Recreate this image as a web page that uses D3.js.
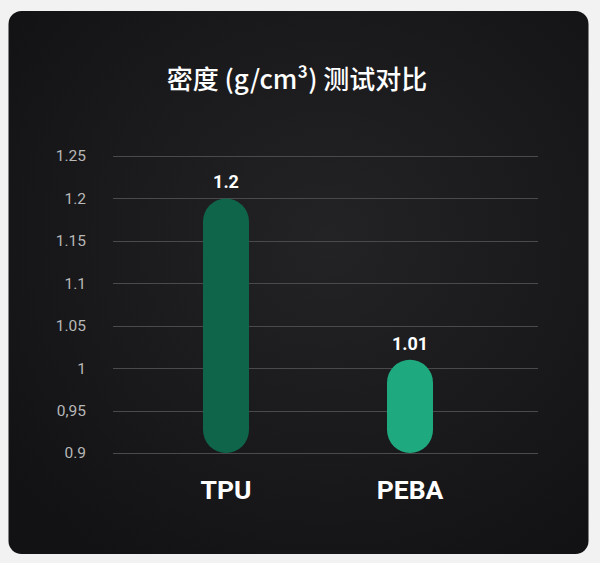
<!DOCTYPE html>
<html>
<head>
<meta charset="utf-8">
<script src="https://cdn.jsdelivr.net/npm/d3@7/dist/d3.min.js"></script>
<style>
  html, body { margin: 0; padding: 0; background: #f2f2f2; }
  svg { display: block; }
</style>
</head>
<body>
<script>
const titleText = "密度 (g/cm³) 测试对比";
const categories = ["TPU", "PEBA"];
const values = [1.2, 1.01];
const valueLabels = ["1.2", "1.01"];
const barColors = ["#0e654a", "#1fa97e"];
const tickValues = [0.9, 0.95, 1.0, 1.05, 1.1, 1.15, 1.2, 1.25];
const tickLabels = ["0.9", "0,95", "1", "1.05", "1.1", "1.15", "1.2", "1.25"];
const yMin = 0.9, yMax = 1.25;

const W = 600, H = 563;
const svg = d3.select("body").append("svg").attr("width", W).attr("height", H);

const defs = svg.append("defs");
const rg = defs.append("radialGradient").attr("id", "bg")
  .attr("cx", "55%").attr("cy", "42%").attr("r", "70%");
rg.append("stop").attr("offset", "0%").attr("stop-color", "#232325");
rg.append("stop").attr("offset", "55%").attr("stop-color", "#1a1a1c");
rg.append("stop").attr("offset", "100%").attr("stop-color", "#121214");

svg.append("rect").attr("x", 8.5).attr("y", 11).attr("width", 580).attr("height", 543)
  .attr("rx", 13).attr("fill", "url(#bg)");

const x = d3.scaleBand().domain(categories).range([134, 502]).paddingInner(0.75).paddingOuter(0.375);
const y = d3.scaleLinear().domain([yMin, yMax]).range([453, 156]);

// grid lines
svg.append("g").selectAll("line").data(tickValues).join("line")
  .attr("x1", 113).attr("x2", 538)
  .attr("y1", d => Math.round(y(d)) + 0.5).attr("y2", d => Math.round(y(d)) + 0.5)
  .attr("stroke", "#4a4a4c").attr("stroke-width", 1);

// y axis labels
const yAxis = d3.axisLeft(y).tickValues(tickValues)
  .tickFormat((d, i) => tickLabels[i]).tickSize(0).tickPadding(0);
const ga = svg.append("g").attr("transform", "translate(86,0)").call(yAxis);
ga.select(".domain").remove();
ga.selectAll("text").attr("fill", "#b8b8b8").attr("font-size", 15.5)
  .attr("font-family", "Roboto, 'Noto Sans', sans-serif");

// bars
svg.append("g").selectAll("rect").data(categories).join("rect")
  .attr("x", d => x(d))
  .attr("width", x.bandwidth())
  .attr("y", (d, i) => y(values[i]))
  .attr("height", (d, i) => y(yMin) - y(values[i]))
  .attr("rx", x.bandwidth() / 2)
  .attr("fill", (d, i) => barColors[i]);

// value labels
svg.append("g").selectAll("text").data(categories).join("text")
  .attr("x", d => x(d) + x.bandwidth() / 2)
  .attr("y", (d, i) => y(values[i]) - 10)
  .attr("text-anchor", "middle")
  .attr("fill", "#ffffff").attr("font-size", 18).attr("font-weight", "bold")
  .attr("font-family", "Roboto, 'Noto Sans', sans-serif")
  .text((d, i) => valueLabels[i]);

// category labels
svg.append("g").selectAll("text").data(categories).join("text")
  .attr("x", d => x(d) + x.bandwidth() / 2)
  .attr("y", 499)
  .attr("text-anchor", "middle")
  .attr("fill", "#ffffff").attr("font-size", 26.5).attr("font-weight", "bold")
  .attr("font-family", "Roboto, 'Noto Sans', sans-serif")
  .text(d => d);

// title
svg.append("text").attr("x", 297).attr("y", 89)
  .attr("text-anchor", "middle")
  .attr("fill", "#ffffff").attr("font-size", 26).attr("font-weight", 500)
  .attr("font-family", "'Noto Sans CJK SC', sans-serif")
  .text(titleText);
</script>
</body>
</html>
